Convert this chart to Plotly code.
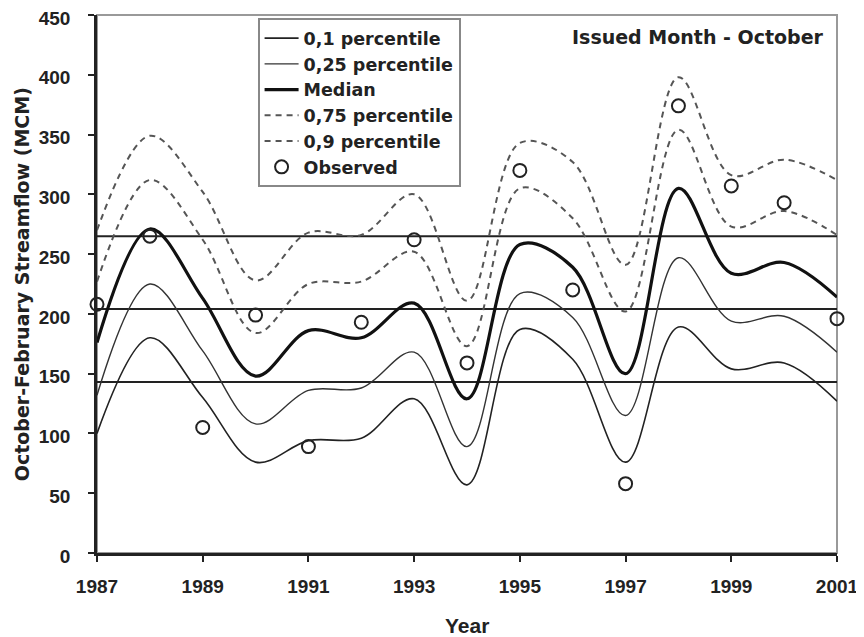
import plotly.graph_objects as go

years = list(range(1987, 2002))
p10 = [100, 180, 130, 76, 94, 96, 129, 57, 187, 162, 76, 189, 154, 159, 127]
p25 = [132, 225, 169, 108, 136, 138, 168, 89, 217, 197, 115, 247, 194, 198, 168]
median = [176, 271, 213, 148, 186, 180, 209, 129, 258, 239, 150, 305, 234, 243, 214]
p75 = [227, 312, 262, 184, 225, 227, 252, 173, 305, 280, 202, 354, 273, 286, 266]
p90 = [270, 349, 302, 228, 268, 266, 300, 211, 343, 327, 241, 398, 316, 329, 312]
observed = [208, 265, 105, 199, 89, 193, 262, 159, 320, 220, 58, 374, 307, 293, 196]
thresholds = [265, 204, 143]

tick_font = "Liberation Sans, Arial, sans-serif"
text_font = "DejaVu Sans, Verdana, sans-serif"

fig = go.Figure()

for t in thresholds:
    fig.add_trace(go.Scatter(x=[years[0], years[-1]], y=[t, t], mode="lines",
                             line=dict(color="#222", width=2), showlegend=False,
                             hoverinfo="skip"))

fig.add_trace(go.Scatter(x=years, y=p10, mode="lines", name="0,1 percentile",
                         line=dict(color="#222", width=1.6, shape="spline", smoothing=1)))
fig.add_trace(go.Scatter(x=years, y=p25, mode="lines", name="0,25 percentile",
                         line=dict(color="#333", width=1.4, shape="spline", smoothing=1)))
fig.add_trace(go.Scatter(x=years, y=median, mode="lines", name="Median",
                         line=dict(color="#111", width=3.2, shape="spline", smoothing=1)))
fig.add_trace(go.Scatter(x=years, y=p75, mode="lines", name="0,75 percentile",
                         line=dict(color="#555", width=2, dash="6px,5px", shape="spline", smoothing=1)))
fig.add_trace(go.Scatter(x=years, y=p90, mode="lines", name="0,9 percentile",
                         line=dict(color="#555", width=2, dash="6px,5px", shape="spline", smoothing=1)))
fig.add_trace(go.Scatter(x=years, y=observed, mode="markers", name="Observed",
                         marker=dict(symbol="circle-open", size=13, color="#222",
                                     line=dict(width=2, color="#222")),
                         cliponaxis=False))

fig.add_shape(type="rect", xref="paper", yref="paper", x0=0, x1=1, y0=0, y1=1,
              line=dict(color="#999", width=2), layer="below")

fig.add_annotation(text="Issued Month - October", xref="paper", yref="paper",
                   x=0.985, y=0.96, xanchor="right", yanchor="middle", showarrow=False,
                   font=dict(family=text_font, size=19, color="#222", weight="bold"))
fig.add_annotation(text="October-February Streamflow (MCM)", xref="paper", yref="paper",
                   x=-0.101, y=0.5, xanchor="center", yanchor="middle", textangle=-90,
                   showarrow=False, font=dict(family=text_font, size=19, color="#222", weight="bold"))
fig.add_annotation(text="Year", xref="paper", yref="paper",
                   x=0.5, y=-0.134, xanchor="center", yanchor="middle",
                   showarrow=False, font=dict(family=tick_font, size=21, color="#222", weight="bold"))

# page body has an 8px margin: margins offset so the plot lands where the reference has it
fig.update_layout(
    width=856, height=629,
    margin=dict(l=89, r=27, t=7, b=84, autoexpand=False),
    paper_bgcolor="white", plot_bgcolor="white",
    showlegend=True,
    legend=dict(x=0.217, y=0.994, xanchor="left", yanchor="top",
                bgcolor="white", bordercolor="#888", borderwidth=2,
                font=dict(family=text_font, size=17.5, color="#222", weight="bold"),
                tracegroupgap=0, itemwidth=34),
    xaxis=dict(range=[1987, 2001], tickmode="array", tickvals=list(range(1987, 2002, 2)),
               ticks="outside", ticklen=6, tickwidth=2, tickcolor="#222", automargin=False,
               showline=True, linecolor="#222", linewidth=2.5, showgrid=False, zeroline=False,
               tickfont=dict(family=tick_font, size=19, color="#222", weight="bold"),
               ticklabelstandoff=8, ticklabeloverflow="allow"),
    yaxis=dict(range=[0, 450], tickmode="array", tickvals=list(range(0, 451, 50)),
               ticks="outside", ticklen=6, tickwidth=2, tickcolor="#222", automargin=False,
               showline=True, linecolor="#222", linewidth=2.5, showgrid=False, zeroline=False,
               tickfont=dict(family=tick_font, size=19, color="#222", weight="bold"),
               ticklabelstandoff=14, ticklabelshift=3, ticklabeloverflow="allow"),
)

fig.write_html("out.html")
